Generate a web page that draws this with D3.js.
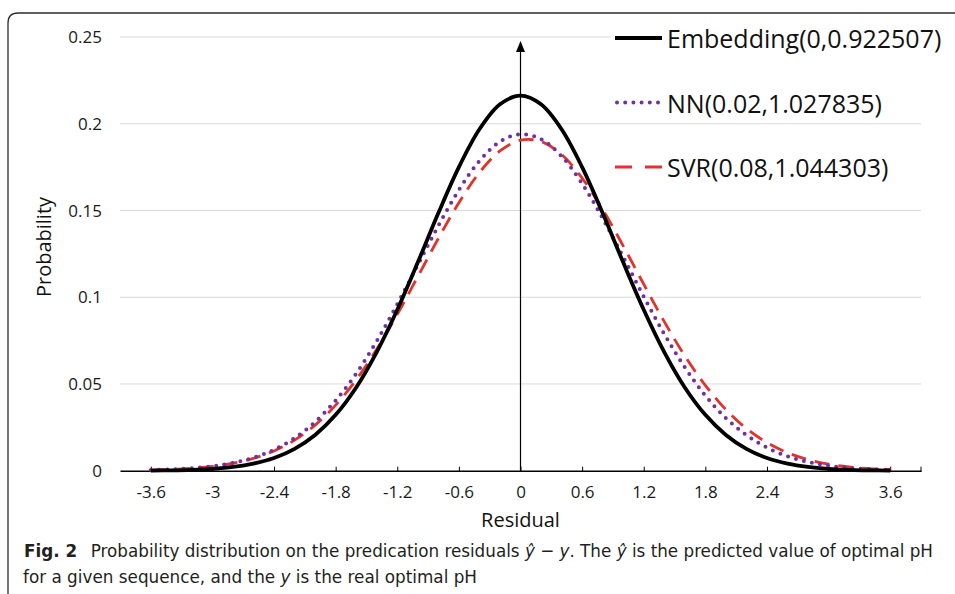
<!DOCTYPE html>
<html>
<head>
<meta charset="utf-8">
<script src="https://cdn.jsdelivr.net/npm/d3@7"></script>
<style>
  body { margin: 0; background: #fff; }
  svg { display: block; }
</style>
</head>
<body>
<svg id="chart" width="955" height="594"></svg>
<script>
// residual positions the curves are sampled at
const residuals = [-3.6, -3.4, -3.2, -3.0, -2.8, -2.6, -2.4, -2.2, -2.0, -1.8, -1.6, -1.4, -1.2, -1.0, -0.8, -0.6, -0.4, -0.2,
  0, 0.2, 0.4, 0.6, 0.8, 1.0, 1.2, 1.4, 1.6, 1.8, 2.0, 2.2, 2.4, 2.6, 2.8, 3.0, 3.2, 3.4, 3.6]

const embeddingProb = [0.0001, 0.0002, 0.0005, 0.0011, 0.0022, 0.0041, 0.0073, 0.0126, 0.0206, 0.0322, 0.0480, 0.0684, 0.0928, 0.1201, 0.1485, 0.1750, 0.1968, 0.2112,
  0.2162, 0.2112, 0.1968, 0.1750, 0.1485, 0.1201, 0.0928, 0.0684, 0.0480, 0.0322, 0.0206, 0.0126, 0.0073, 0.0041, 0.0022, 0.0011, 0.0005, 0.0002, 0.0001]

const nnProb = [0.0004, 0.0008, 0.0014, 0.0026, 0.0045, 0.0075, 0.0121, 0.0188, 0.0281, 0.0405, 0.0560, 0.0747, 0.0960, 0.1186, 0.1412, 0.1618, 0.1785, 0.1897,
  0.1940, 0.1911, 0.1813, 0.1655, 0.1455, 0.1232, 0.1004, 0.0788, 0.0596, 0.0433, 0.0303, 0.0205, 0.0133, 0.0083, 0.0050, 0.0029, 0.0016, 0.0009, 0.0005]

const svrProb = [0.0004, 0.0007, 0.0014, 0.0025, 0.0043, 0.0071, 0.0114, 0.0176, 0.0263, 0.0378, 0.0524, 0.0700, 0.0901, 0.1119, 0.1339, 0.1545, 0.1719, 0.1843,
  0.1905, 0.1898, 0.1823, 0.1687, 0.1506, 0.1296, 0.1075, 0.0859, 0.0662, 0.0492, 0.0352, 0.0243, 0.0162, 0.0104, 0.0064, 0.0038, 0.0022, 0.0012, 0.0007]

const xTicks = [-3.6, -3, -2.4, -1.8, -1.2, -0.6, 0, 0.6, 1.2, 1.8, 2.4, 3, 3.6]
const yTicks = [0, 0.05, 0.1, 0.15, 0.2, 0.25]
const legendNames = ["Embedding(0,0.922507)", "NN(0.02,1.027835)", "SVR(0.08,1.044303)"]

const series = [
  { name: legendNames[0], values: embeddingProb, color: "#000000", width: 3.8, dash: null, cap: "butt" },
  { name: legendNames[1], values: nnProb, color: "#7030a0", width: 4, dash: "0,8.2", cap: "round" },
  { name: legendNames[2], values: svrProb, color: "#e3322a", width: 2.8, dash: "15,9", cap: "butt" }
]

const LEFT = 120, RIGHT = 921, TOP = 37, BOTTOM = 470.7

const svg = d3.select("#chart")
const font = "'Open Sans', 'DejaVu Sans', sans-serif"

// scales
const x = d3.scaleLinear().domain([-3.9, 3.9]).range([LEFT, RIGHT])
const y = d3.scaleLinear().domain([0, 0.25]).range([BOTTOM, TOP])

// frame round the figure
svg.append("path")
  .attr("d", "M8,594 L8,23 Q8,13 18,13 L960,13")
  .attr("fill", "none")
  .attr("stroke", "#2b2b2b")
  .attr("stroke-width", 1.3)

// gridlines
svg.append("g")
  .selectAll("line")
  .data(yTicks.filter(d => d > 0))
  .join("line")
  .attr("x1", LEFT).attr("x2", RIGHT)
  .attr("y1", d => y(d)).attr("y2", d => y(d))
  .attr("stroke", "#d9d9d9")
  .attr("stroke-width", 1)

// y tick labels
svg.append("g")
  .selectAll("text")
  .data(yTicks)
  .join("text")
  .attr("x", 102)
  .attr("y", d => y(d))
  .attr("dy", "0.36em")
  .attr("text-anchor", "end")
  .attr("font-family", font)
  .attr("font-size", "17px")
  .attr("fill", "#1a1a1a")
  .text(d => String(d))

// x axis
const xAxisCall = d3.axisBottom(x)
  .tickValues(xTicks)
  .tickSize(0)
  .tickPadding(15)
  .tickFormat(d => String(d))
const xAxis = svg.append("g")
  .attr("transform", `translate(0, ${BOTTOM})`)
  .call(xAxisCall)
xAxis.select(".domain").attr("stroke", "#000").attr("stroke-width", 1.5)
xAxis.selectAll(".tick text")
  .attr("font-family", font)
  .attr("font-size", "17px")
  .attr("fill", "#1a1a1a")
xAxis.selectAll(".tick")
  .append("line")
  .attr("y1", -4).attr("y2", 1)
  .attr("stroke", "#000")
xAxis.append("line")
  .attr("x1", x(3.9)).attr("x2", x(3.9))
  .attr("y1", -4).attr("y2", 1)
  .attr("stroke", "#000")

// vertical arrow at zero
svg.append("line")
  .attr("x1", x(0)).attr("x2", x(0))
  .attr("y1", BOTTOM).attr("y2", 50)
  .attr("stroke", "#000")
  .attr("stroke-width", 1.2)
svg.append("path")
  .attr("d", `M${x(0)},41 L${x(0) - 4.5},52 L${x(0) + 4.5},52 Z`)
  .attr("fill", "#000")

// curves
const line = d3.line()
  .x((d, i) => x(residuals[i]))
  .y(d => y(d))
  .curve(d3.curveCatmullRom.alpha(0.5))

svg.append("g")
  .selectAll("path")
  .data(series.slice().reverse())
  .join("path")
  .attr("d", d => line(d.values))
  .attr("fill", "none")
  .attr("stroke", d => d.color)
  .attr("stroke-width", d => d.width)
  .attr("stroke-dasharray", d => d.dash)
  .attr("stroke-linecap", d => d.cap)

// legend
svg.append("rect")
  .attr("x", 611).attr("y", 20)
  .attr("width", 340).attr("height", 36)
  .attr("fill", "#fff")

const legend = svg.append("g")
  .selectAll("g")
  .data(series)
  .join("g")
  .attr("transform", (d, i) => `translate(615, ${38 + i * 64.5})`)
legend.append("line")
  .attr("x1", d => d.cap === "round" ? 2 : 0).attr("x2", 47)
  .attr("stroke", d => d.color)
  .attr("stroke-width", d => d.width)
  .attr("stroke-dasharray", d => d.dash === "15,9" ? "17,13" : d.dash)
  .attr("stroke-linecap", d => d.cap)
legend.append("text")
  .attr("x", 52)
  .attr("y", 10)
  .attr("font-family", font)
  .attr("font-size", "25px")
  .attr("fill", "#111")
  .text(d => d.name)

// axis titles
svg.append("text")
  .attr("x", x(0))
  .attr("y", 527)
  .attr("text-anchor", "middle")
  .attr("font-family", font)
  .attr("font-size", "20px")
  .attr("fill", "#111")
  .text("Residual")

svg.append("text")
  .attr("transform", "translate(51, 247) rotate(-90)")
  .attr("text-anchor", "middle")
  .attr("font-family", font)
  .attr("font-size", "20px")
  .attr("fill", "#111")
  .text("Probability")

// caption
const capFont = "'Liberation Sans Narrow', 'DejaVu Sans Condensed', 'Open Sans', sans-serif"
const cap1 = svg.append("text")
  .attr("x", 24).attr("y", 557)
  .attr("font-family", capFont)
  .attr("font-size", "18px")
  .attr("fill", "#231f20")
  .attr("textLength", 909)
  .attr("lengthAdjust", "spacingAndGlyphs")
cap1.append("tspan").attr("font-weight", "bold").text("Fig. 2")
cap1.append("tspan").text("\u2002 Probability distribution on the predication residuals ")
cap1.append("tspan").attr("font-style", "italic").text("\u0177")
cap1.append("tspan").text(" \u2212 ")
cap1.append("tspan").attr("font-style", "italic").text("y")
cap1.append("tspan").text(". The ")
cap1.append("tspan").attr("font-style", "italic").text("\u0177")
cap1.append("tspan").text(" is the predicted value of optimal pH")

const cap2 = svg.append("text")
  .attr("x", 23).attr("y", 583)
  .attr("font-family", capFont)
  .attr("font-size", "18px")
  .attr("fill", "#231f20")
  .attr("textLength", 454)
  .attr("lengthAdjust", "spacingAndGlyphs")
cap2.append("tspan").text("for a given sequence, and the ")
cap2.append("tspan").attr("font-style", "italic").text("y")
cap2.append("tspan").text(" is the real optimal pH")
</script>
</body>
</html>
